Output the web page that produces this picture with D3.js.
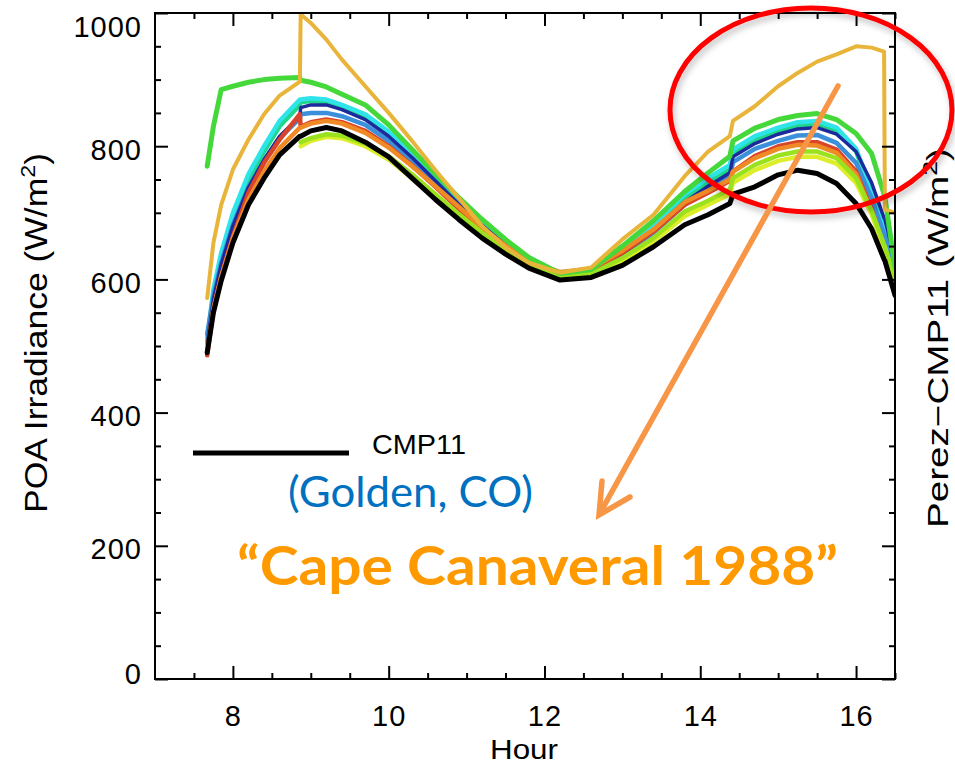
<!DOCTYPE html>
<html><head><meta charset="utf-8">
<script src="https://cdn.jsdelivr.net/npm/d3@7"></script>
<style>body{margin:0;background:#fff}svg{display:block}</style>
</head><body>
<svg id="chart" width="955" height="764"></svg>
<script>
// ---------------- DATA ----------------
const hours = [7.67,7.75,7.85,8.0,8.2,8.4,8.6,8.86,8.87,9.0,9.2,9.4,9.7,10.0,10.3,10.6,10.9,11.2,11.5,11.8,12.2,12.6,13.0,13.4,13.8,14.1,14.38,14.42,14.7,15.0,15.25,15.5,15.75,16.0,16.2,16.36,16.37,16.5];

const cmp11     = [490,550,598,655,712,752,787,815,815,823,828,823,806,784,752,720,690,662,638,617,599,603,621,649,682,697,714,728,739,757,764,759,744,714,676,630,628,576];
const cape1988  = [572,655,712,765,810,848,876,897,998,985,960,930,890,850,808,764,722,680,648,625,610,618,660,697,755,792,815,838,860,890,910,927,938,950,948,942,705,700];
const greenTop  = [770,830,885,890,896,900,902,903,899,896,889,878,862,832,795,758,723,690,660,633,609,615,650,688,732,760,785,808,827,840,846,849,840,819,789,728,724,618];
const cyanVals  = [510,585,640,700,758,800,838,870,870,872,870,862,848,822,790,755,720,688,658,632,608,613,645,682,728,752,772,795,815,828,836,838,828,796,735,680,678,628];
const tealVals  = [508,578,632,692,750,792,830,862,866,868,866,858,844,818,786,751,716,684,655,630,607,612,642,678,722,746,766,790,810,823,831,833,824,792,730,676,674,624];
const navyVals  = [503,570,622,680,738,780,815,845,858,862,862,855,840,815,783,748,713,681,652,628,606,610,638,673,716,740,760,784,804,818,826,828,818,792,745,692,690,630];
const steelVals = [518,575,625,682,738,778,812,842,848,850,850,845,832,808,777,743,709,677,649,626,605,609,636,670,712,735,754,776,796,808,816,817,805,775,722,668,666,612];
const redVals   = [486,555,605,664,730,775,810,848,829,836,840,836,823,800,771,739,706,675,648,625,607,613,640,672,712,730,748,762,785,800,806,806,795,762,705,650,648,594];
const orangeVals= [492,556,604,662,720,762,797,828,828,834,838,834,820,798,770,740,709,678,651,628,611,616,643,675,716,733,750,762,782,796,802,801,790,758,700,645,643,590];
const limeVals  = [null,null,null,null,null,null,null,null,806,812,818,816,804,785,758,728,698,670,645,623,604,608,632,662,702,718,735,752,772,786,792,792,782,752,703,652,650,597];
const yellowVals= [null,null,null,null,null,null,null,null,800,808,814,812,800,780,752,722,693,666,641,620,602,606,628,657,695,712,728,745,764,778,784,784,774,745,698,648,646,595];

const xMajorTicks = [8,10,12,14,16];
const xMinorTicks = [7.5,8.5,9,9.5,10.5,11,11.5,12.5,13,13.5,14.5,15,15.5,16.5];
const yMajorTicks = [0,200,400,600,800,1000];
const yMinorTicks = [50,100,150,250,300,350,450,500,550,650,700,750,850,900,950];

const seriesList = [
  {name:"teal",   color:"#1FD68A", values:tealVals,   w:4.5},
  {name:"cyan",   color:"#2EE4E8", values:cyanVals,   w:4.5},
  {name:"steel",  color:"#3C8FDA", values:steelVals,  w:4.5},
  {name:"navy",   color:"#1C2A9C", values:navyVals,   w:3.5},
  {name:"red",    color:"#D8452B", values:redVals,    w:4.5},
  {name:"orange", color:"#F08A24", values:orangeVals, w:4.5},
  {name:"yellow", color:"#DCEE2A", values:yellowVals, w:4.5},
  {name:"lime",   color:"#9BE21E", values:limeVals,   w:4.5},
  {name:"green",  color:"#45D83A", values:greenTop,   w:5},
  {name:"cape",   color:"#E9B43A", values:cape1988,   w:4},
  {name:"CMP11",  color:"#000000", values:cmp11,      w:5}
];

// ---------------- CHART ----------------
const svg = d3.select("#chart");
const x = d3.scaleLinear().domain([7,16.5]).range([155,895]);
const y = d3.scaleLinear().domain([0,1000]).range([679,13]);

const defs = svg.append("defs");
const f = defs.append("filter").attr("id","shadow").attr("x","-20%").attr("y","-20%").attr("width","140%").attr("height","140%");
f.append("feDropShadow").attr("dx",2).attr("dy",4).attr("stdDeviation",3).attr("flood-color","#000").attr("flood-opacity",0.25);

const clip = defs.append("clipPath").attr("id","plotclip");
clip.append("rect").attr("x",155).attr("y",13).attr("width",740).attr("height",666);

const line = d3.line()
  .defined(d => d.v != null)
  .x(d => x(d.h)).y(d => y(d.v))
  .curve(d3.curveLinear);

const gLines = svg.append("g").attr("clip-path","url(#plotclip)");
seriesList.forEach(s => {
  const pts = hours.map((h,i) => ({h:h, v:s.values[i]}));
  gLines.append("path").datum(pts)
    .attr("d", line)
    .attr("fill","none")
    .attr("stroke", s.color)
    .attr("stroke-width", s.w)
    .attr("stroke-linejoin","round")
    .attr("stroke-linecap","round");
});

const fontAxis = "'Liberation Sans', Arial, Helvetica, sans-serif";

function styleAxis(g){
  g.select(".domain").remove();
  g.selectAll(".tick line").attr("stroke","#000").attr("stroke-width",2);
  g.selectAll("text").attr("font-family",fontAxis).attr("font-size",29).attr("fill","#000")
    .attr("letter-spacing","1px");
}

// bottom
const gb = svg.append("g").attr("transform","translate(0,679)")
  .call(d3.axisBottom(x).tickValues(xMajorTicks).tickSizeInner(-13).tickSizeOuter(0).tickPadding(26).tickFormat(d3.format("d")));
styleAxis(gb);
const gbm = svg.append("g").attr("transform","translate(0,679)")
  .call(d3.axisBottom(x).tickValues(xMinorTicks).tickSizeInner(-6).tickSizeOuter(0).tickFormat(""));
styleAxis(gbm);
// top
const gt = svg.append("g").attr("transform","translate(0,13)")
  .call(d3.axisTop(x).tickValues(xMajorTicks).tickSizeInner(-13).tickSizeOuter(0).tickFormat(""));
styleAxis(gt);
const gtm = svg.append("g").attr("transform","translate(0,13)")
  .call(d3.axisTop(x).tickValues(xMinorTicks).tickSizeInner(-6).tickSizeOuter(0).tickFormat(""));
styleAxis(gtm);
// left
const gl = svg.append("g").attr("transform","translate(155,0)")
  .call(d3.axisLeft(y).tickValues(yMajorTicks).tickSizeInner(-13).tickSizeOuter(0).tickPadding(13).tickFormat(d3.format("d")));
styleAxis(gl);
gl.selectAll("text").attr("dy","0.45em")
  .attr("transform", d => d === 1000 ? "translate(0,10)" : (d === 0 ? "translate(0,-9)" : null));
const glm = svg.append("g").attr("transform","translate(155,0)")
  .call(d3.axisLeft(y).tickValues(yMinorTicks).tickSizeInner(-6).tickSizeOuter(0).tickFormat(""));
styleAxis(glm);
// right
const gr = svg.append("g").attr("transform","translate(895,0)")
  .call(d3.axisRight(y).tickValues(yMajorTicks).tickSizeInner(-13).tickSizeOuter(0).tickFormat(""));
styleAxis(gr);
const grm = svg.append("g").attr("transform","translate(895,0)")
  .call(d3.axisRight(y).tickValues(yMinorTicks).tickSizeInner(-6).tickSizeOuter(0).tickFormat(""));
styleAxis(grm);

// frame
svg.append("rect").attr("x",155).attr("y",13).attr("width",740).attr("height",666)
  .attr("fill","none").attr("stroke","#000").attr("stroke-width",2);

// axis titles
svg.append("text").attr("x",524).attr("y",759).attr("text-anchor","middle")
  .attr("font-family",fontAxis).attr("font-size",28)
  .attr("textLength",68).attr("lengthAdjust","spacingAndGlyphs").text("Hour");

const lt = svg.append("text").attr("transform","translate(47,333) rotate(-90)")
  .attr("text-anchor","middle").attr("font-family",fontAxis).attr("font-size",32)
  .attr("textLength",360).attr("lengthAdjust","spacingAndGlyphs");
lt.append("tspan").text("POA  Irradiance  (W/m");
lt.append("tspan").attr("dy",-12).attr("font-size",21).text("2");
lt.append("tspan").attr("dy",12).text(")");

const rt = svg.append("text").attr("transform","translate(948,338) rotate(-90)")
  .attr("text-anchor","middle").attr("font-family",fontAxis).attr("font-size",29)
  .attr("textLength",380).attr("lengthAdjust","spacingAndGlyphs");
rt.append("tspan").text("Perez\u2212CMP11  (W/m");
rt.append("tspan").attr("dy",-11).attr("font-size",20).text("2");
rt.append("tspan").attr("dy",11).text(")");

// legend
svg.append("line").attr("x1",193).attr("x2",349).attr("y1",453).attr("y2",453)
  .attr("stroke","#000").attr("stroke-width",5);
svg.append("text").attr("x",372).attr("y",454).attr("font-family",fontAxis)
  .attr("font-size",28).attr("textLength",94).attr("lengthAdjust","spacingAndGlyphs").text("CMP11");

// annotations
svg.append("text").attr("x",288).attr("y",507).attr("font-family","Lato, 'Open Sans', sans-serif")
  .attr("font-size",42).attr("fill","#0070C0").attr("textLength",245).attr("lengthAdjust","spacingAndGlyphs")
  .text("(Golden, CO)");
svg.append("text").attr("x",237).attr("y",585).attr("font-family","Lato, 'Open Sans', sans-serif")
  .attr("font-weight","bold").attr("font-size",54).attr("fill","#FF9900")
  .attr("textLength",601).attr("lengthAdjust","spacingAndGlyphs")
  .text("\u201CCape Canaveral 1988\u201D");

// red ellipse
svg.append("ellipse").attr("cx",811).attr("cy",110).attr("rx",141).attr("ry",102)
  .attr("fill","none").attr("stroke","#FF0000").attr("stroke-width",5).attr("filter","url(#shadow)");

// orange arrow
const ag = svg.append("g").attr("stroke","#F79646").attr("stroke-width",5.5).attr("stroke-linecap","round").attr("fill","none");
ag.append("line").attr("x1",838).attr("y1",86).attr("x2",600).attr("y2",513);
ag.append("polyline").attr("points","602,481 599,515 630,497").attr("stroke-linejoin","miter");
</script>
</body></html>
